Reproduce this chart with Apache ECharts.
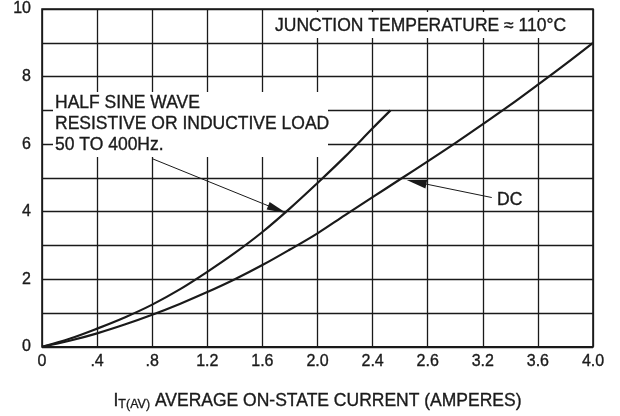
<!DOCTYPE html>
<html>
<head>
<meta charset="utf-8">
<script src="https://cdn.jsdelivr.net/npm/echarts@6/dist/echarts.min.js"></script>
<style>html,body{margin:0;padding:0;background:#fff}#c{width:620px;height:416px}</style>
</head>
<body>
<div id="c"></div>
<script>
// Data
var xTickLabels = ["0", ".4", ".8", "1.2", "1.6", "2.0", "2.4", "2.6", "3.2", "3.6", "4.0"];
var yTickLabels = ["0", "", "2", "", "4", "", "6", "", "8", "", "10"];
var halfSineX = [0, 0.2, 0.4, 0.6, 0.8, 1.0, 1.2, 1.4, 1.6, 1.8, 2.0, 2.2, 2.4, 2.53];
var halfSineY = [0, 0.24, 0.54, 0.87, 1.25, 1.7, 2.22, 2.78, 3.4, 4.1, 4.85, 5.63, 6.47, 7.0];
var dcX = [0, 0.2, 0.4, 0.6, 0.8, 1.0, 1.2, 1.4, 1.6, 1.8, 2.0, 2.2, 2.4, 2.6, 2.8, 3.0, 3.2, 3.4, 3.6, 3.8, 4.0];
var dcY = [0, 0.18, 0.4, 0.66, 0.95, 1.27, 1.62, 2.0, 2.42, 2.88, 3.36, 3.9, 4.43, 4.96, 5.49, 6.03, 6.59, 7.16, 7.76, 8.37, 9.0];
var halfSineArrow = [[0.80, 5.57], [1.709, 4.065]];
var dcArrow = [[3.265, 4.42], [2.719, 4.876]];

function zip(a, b) { return a.map(function (v, i) { return [v, b[i]]; }); }

var FONT = '"Liberation Sans", Arial, sans-serif';
var INK = '#1a1a1a';
function txt(x, y, s) {
  return { type: 'text', z: 51, x: x, y: y,
    style: { text: s, font: '17.5px ' + FONT, fill: INK, stroke: INK, lineWidth: 0.35, verticalAlign: 'middle' } };
}
var chart = echarts.init(document.getElementById('c'));
chart.setOption({
  animation: false,
  backgroundColor: '#fff',
  grid: { left: 42, right: 27, top: 9, bottom: 68, show: true, borderColor: INK, borderWidth: 1.6 },
  xAxis: {
    type: 'value', min: 0, max: 4, interval: 0.4,
    axisLine: { show: false }, axisTick: { show: false },
    splitLine: { show: true, lineStyle: { color: INK, width: 1.3 } },
    axisLabel: {
      margin: 7, fontFamily: FONT, fontSize: 16, color: INK, textBorderColor: INK, textBorderWidth: 0.35,
      formatter: function (v) { var i = Math.round(v / 0.4); return xTickLabels[i] || ''; }
    },
    name: '{s|I}{sub|T(AV)}{s| AVERAGE ON-STATE CURRENT (AMPERES)}',
    nameLocation: 'middle', nameGap: 44,
    nameTextStyle: {
      rich: {
        s: { fontFamily: FONT, fontSize: 17.5, color: INK, textBorderColor: INK, textBorderWidth: 0.35 },
        sub: { fontFamily: FONT, fontSize: 12.5, color: INK, textBorderColor: INK, textBorderWidth: 0.3, verticalAlign: 'bottom', padding: [7, 0, 0, 0] }
      }
    }
  },
  yAxis: {
    type: 'value', min: 0, max: 10, interval: 1,
    axisLine: { show: false }, axisTick: { show: false },
    splitLine: { show: true, lineStyle: { color: INK, width: 1.3 } },
    axisLabel: {
      margin: 11, fontFamily: FONT, fontSize: 16, color: INK, textBorderColor: INK, textBorderWidth: 0.35,
      formatter: function (v) { return yTickLabels[Math.round(v)] || ''; }
    }
  },
  graphic: [
    { type: 'rect', z: 50, shape: { x: 53, y: 92, width: 275, height: 65 }, style: { fill: '#fff' } },
    { type: 'rect', z: 50, shape: { x: 268, y: 12, width: 322, height: 26 }, style: { fill: '#fff' } },
    txt(55, 103, 'HALF SINE WAVE'),
    txt(55, 124, 'RESISTIVE OR INDUCTIVE LOAD'),
    txt(55, 145, '50 TO 400Hz.'),
    txt(275, 26, 'JUNCTION TEMPERATURE \u2248 110\u00B0C'),
    txt(497, 200, 'DC')
  ],
  series: [
    {
      type: 'line', z: 60, data: zip(halfSineX, halfSineY), smooth: 0.35, showSymbol: false,
      lineStyle: { color: INK, width: 2.2 },
      markLine: {
        silent: true, symbol: ['none', 'triangle'], symbolSize: [8, 20],
        lineStyle: { color: INK, width: 1, type: 'solid' }, label: { show: false },
        data: [[{ coord: halfSineArrow[0] }, { coord: halfSineArrow[1] }]]
      }
    },
    {
      type: 'line', z: 60, data: zip(dcX, dcY), smooth: 0.35, showSymbol: false,
      lineStyle: { color: INK, width: 2.2 },
      markLine: {
        silent: true, symbol: ['none', 'triangle'], symbolSize: [9, 20],
        lineStyle: { color: INK, width: 1, type: 'solid' }, label: { show: false },
        data: [[{ coord: dcArrow[0] }, { coord: dcArrow[1] }]]
      }
    }
  ]
});
</script>
</body>
</html>
